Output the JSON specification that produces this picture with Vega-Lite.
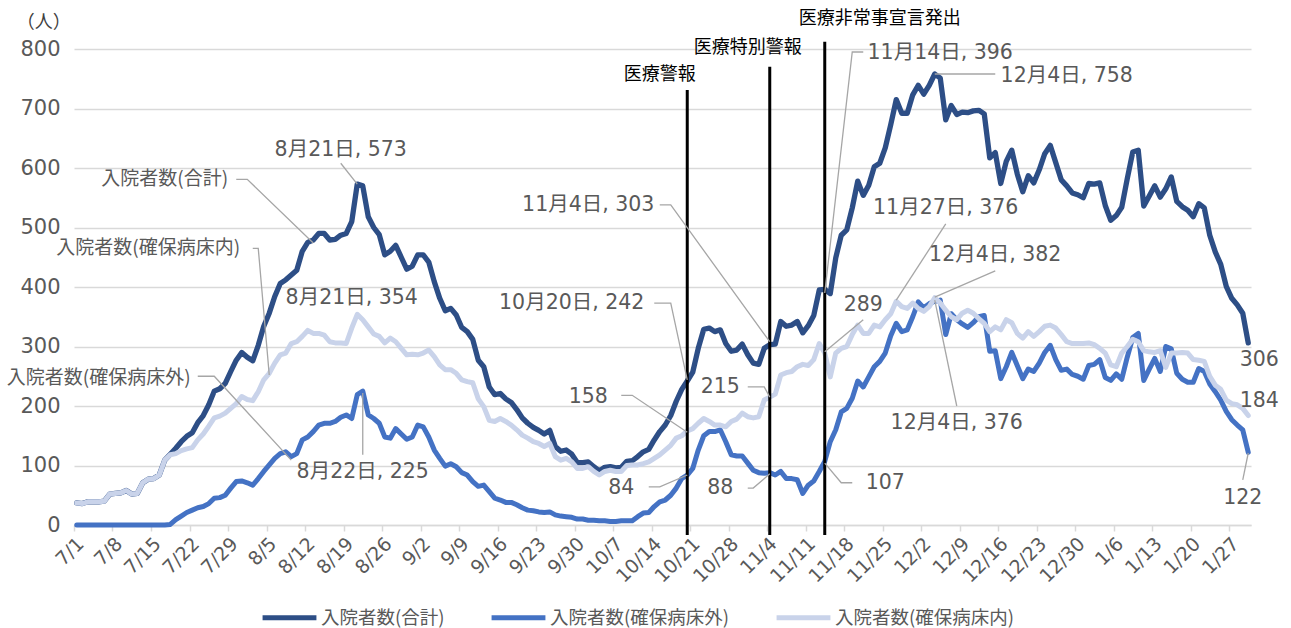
{
 "$schema": "https://vega.github.io/schema/vega-lite/v6.json",
 "width": 1177,
 "height": 476,
 "autosize": "none",
 "padding": {"left": 74, "top": 49, "right": 40, "bottom": 103},
 "background": "white",
 "config": {
  "font": "DejaVu Sans, Noto Sans CJK JP",
  "view": {"stroke": null},
  "axisY": {
   "tickCount": 8, "labelFontSize": 21, "labelColor": "#595959", "labelPadding": 14,
   "domain": false, "ticks": false, "grid": true, "gridColor": "#D9D9D9", "gridWidth": 1.5,
   "title": null
  }
 },
 "datasets": {
  "main": [
   {"date":"2020-07-01","total":37,"outside":0,"inside":37},
   {"date":"2020-07-02","total":36,"outside":0,"inside":36},
   {"date":"2020-07-03","total":39,"outside":0,"inside":39},
   {"date":"2020-07-04","total":39,"outside":0,"inside":39},
   {"date":"2020-07-05","total":39,"outside":0,"inside":39},
   {"date":"2020-07-06","total":40,"outside":0,"inside":40},
   {"date":"2020-07-07","total":52,"outside":0,"inside":52},
   {"date":"2020-07-08","total":53,"outside":0,"inside":53},
   {"date":"2020-07-09","total":54,"outside":0,"inside":54},
   {"date":"2020-07-10","total":58,"outside":0,"inside":58},
   {"date":"2020-07-11","total":52,"outside":0,"inside":52},
   {"date":"2020-07-12","total":53,"outside":0,"inside":53},
   {"date":"2020-07-13","total":71,"outside":0,"inside":71},
   {"date":"2020-07-14","total":77,"outside":0,"inside":77},
   {"date":"2020-07-15","total":78,"outside":0,"inside":78},
   {"date":"2020-07-16","total":84,"outside":0,"inside":84},
   {"date":"2020-07-17","total":109,"outside":0,"inside":109},
   {"date":"2020-07-18","total":119,"outside":1,"inside":118},
   {"date":"2020-07-19","total":129,"outside":9,"inside":120},
   {"date":"2020-07-20","total":140,"outside":15,"inside":125},
   {"date":"2020-07-21","total":149,"outside":21,"inside":128},
   {"date":"2020-07-22","total":155,"outside":25,"inside":130},
   {"date":"2020-07-23","total":172,"outside":29,"inside":143},
   {"date":"2020-07-24","total":184,"outside":31,"inside":153},
   {"date":"2020-07-25","total":202,"outside":36,"inside":166},
   {"date":"2020-07-26","total":225,"outside":45,"inside":180},
   {"date":"2020-07-27","total":229,"outside":46,"inside":183},
   {"date":"2020-07-28","total":238,"outside":50,"inside":188},
   {"date":"2020-07-29","total":258,"outside":62,"inside":196},
   {"date":"2020-07-30","total":277,"outside":73,"inside":204},
   {"date":"2020-07-31","total":290,"outside":74,"inside":216},
   {"date":"2020-08-01","total":282,"outside":71,"inside":211},
   {"date":"2020-08-02","total":276,"outside":67,"inside":209},
   {"date":"2020-08-03","total":302,"outside":78,"inside":224},
   {"date":"2020-08-04","total":334,"outside":90,"inside":244},
   {"date":"2020-08-05","total":356,"outside":101,"inside":255},
   {"date":"2020-08-06","total":384,"outside":112,"inside":272},
   {"date":"2020-08-07","total":406,"outside":120,"inside":286},
   {"date":"2020-08-08","total":412,"outside":123,"inside":289},
   {"date":"2020-08-09","total":420,"outside":115,"inside":305},
   {"date":"2020-08-10","total":428,"outside":120,"inside":308},
   {"date":"2020-08-11","total":460,"outside":143,"inside":317},
   {"date":"2020-08-12","total":475,"outside":148,"inside":327},
   {"date":"2020-08-13","total":479,"outside":157,"inside":322},
   {"date":"2020-08-14","total":490,"outside":168,"inside":322},
   {"date":"2020-08-15","total":490,"outside":171,"inside":319},
   {"date":"2020-08-16","total":479,"outside":171,"inside":308},
   {"date":"2020-08-17","total":480,"outside":174,"inside":306},
   {"date":"2020-08-18","total":487,"outside":181,"inside":306},
   {"date":"2020-08-19","total":490,"outside":185,"inside":305},
   {"date":"2020-08-20","total":510,"outside":179,"inside":331},
   {"date":"2020-08-21","total":573,"outside":219,"inside":354},
   {"date":"2020-08-22","total":570,"outside":225,"inside":345},
   {"date":"2020-08-23","total":518,"outside":185,"inside":333},
   {"date":"2020-08-24","total":500,"outside":179,"inside":321},
   {"date":"2020-08-25","total":488,"outside":171,"inside":317},
   {"date":"2020-08-26","total":454,"outside":148,"inside":306},
   {"date":"2020-08-27","total":460,"outside":146,"inside":314},
   {"date":"2020-08-28","total":470,"outside":162,"inside":308},
   {"date":"2020-08-29","total":450,"outside":153,"inside":297},
   {"date":"2020-08-30","total":430,"outside":144,"inside":286},
   {"date":"2020-08-31","total":435,"outside":148,"inside":287},
   {"date":"2020-09-01","total":454,"outside":168,"inside":286},
   {"date":"2020-09-02","total":454,"outside":165,"inside":289},
   {"date":"2020-09-03","total":442,"outside":148,"inside":294},
   {"date":"2020-09-04","total":409,"outside":126,"inside":283},
   {"date":"2020-09-05","total":381,"outside":112,"inside":269},
   {"date":"2020-09-06","total":360,"outside":99,"inside":261},
   {"date":"2020-09-07","total":364,"outside":103,"inside":261},
   {"date":"2020-09-08","total":353,"outside":98,"inside":255},
   {"date":"2020-09-09","total":332,"outside":88,"inside":244},
   {"date":"2020-09-10","total":325,"outside":84,"inside":241},
   {"date":"2020-09-11","total":312,"outside":73,"inside":239},
   {"date":"2020-09-12","total":277,"outside":65,"inside":212},
   {"date":"2020-09-13","total":266,"outside":67,"inside":199},
   {"date":"2020-09-14","total":232,"outside":56,"inside":176},
   {"date":"2020-09-15","total":219,"outside":45,"inside":174},
   {"date":"2020-09-16","total":221,"outside":42,"inside":179},
   {"date":"2020-09-17","total":212,"outside":38,"inside":174},
   {"date":"2020-09-18","total":206,"outside":38,"inside":168},
   {"date":"2020-09-19","total":194,"outside":34,"inside":160},
   {"date":"2020-09-20","total":180,"outside":29,"inside":151},
   {"date":"2020-09-21","total":171,"outside":25,"inside":146},
   {"date":"2020-09-22","total":164,"outside":24,"inside":140},
   {"date":"2020-09-23","total":159,"outside":22,"inside":137},
   {"date":"2020-09-24","total":153,"outside":21,"inside":132},
   {"date":"2020-09-25","total":159,"outside":22,"inside":137},
   {"date":"2020-09-26","total":132,"outside":17,"inside":115},
   {"date":"2020-09-27","total":124,"outside":15,"inside":109},
   {"date":"2020-09-28","total":126,"outside":14,"inside":112},
   {"date":"2020-09-29","total":119,"outside":13,"inside":106},
   {"date":"2020-09-30","total":105,"outside":10,"inside":95},
   {"date":"2020-10-01","total":105,"outside":10,"inside":95},
   {"date":"2020-10-02","total":106,"outside":8,"inside":98},
   {"date":"2020-10-03","total":98,"outside":8,"inside":90},
   {"date":"2020-10-04","total":91,"outside":7,"inside":84},
   {"date":"2020-10-05","total":97,"outside":7,"inside":90},
   {"date":"2020-10-06","total":98,"outside":6,"inside":92},
   {"date":"2020-10-07","total":96,"outside":6,"inside":90},
   {"date":"2020-10-08","total":97,"outside":7,"inside":90},
   {"date":"2020-10-09","total":107,"outside":7,"inside":100},
   {"date":"2020-10-10","total":108,"outside":7,"inside":101},
   {"date":"2020-10-11","total":115,"outside":14,"inside":101},
   {"date":"2020-10-12","total":123,"outside":20,"inside":103},
   {"date":"2020-10-13","total":127,"outside":21,"inside":106},
   {"date":"2020-10-14","total":143,"outside":31,"inside":112},
   {"date":"2020-10-15","total":157,"outside":39,"inside":118},
   {"date":"2020-10-16","total":168,"outside":42,"inside":126},
   {"date":"2020-10-17","total":184,"outside":50,"inside":134},
   {"date":"2020-10-18","total":208,"outside":62,"inside":146},
   {"date":"2020-10-19","total":228,"outside":78,"inside":150},
   {"date":"2020-10-20","total":242,"outside":84,"inside":158},
   {"date":"2020-10-21","total":257,"outside":95,"inside":162},
   {"date":"2020-10-22","total":297,"outside":126,"inside":171},
   {"date":"2020-10-23","total":329,"outside":150,"inside":179},
   {"date":"2020-10-24","total":331,"outside":157,"inside":174},
   {"date":"2020-10-25","total":325,"outside":157,"inside":168},
   {"date":"2020-10-26","total":328,"outside":160,"inside":168},
   {"date":"2020-10-27","total":305,"outside":140,"inside":165},
   {"date":"2020-10-28","total":292,"outside":118,"inside":174},
   {"date":"2020-10-29","total":294,"outside":116,"inside":178},
   {"date":"2020-10-30","total":304,"outside":116,"inside":188},
   {"date":"2020-10-31","total":286,"outside":104,"inside":182},
   {"date":"2020-11-01","total":272,"outside":92,"inside":180},
   {"date":"2020-11-02","total":270,"outside":88,"inside":182},
   {"date":"2020-11-03","total":297,"outside":87,"inside":210},
   {"date":"2020-11-04","total":303,"outside":88,"inside":215},
   {"date":"2020-11-05","total":304,"outside":84,"inside":220},
   {"date":"2020-11-06","total":342,"outside":90,"inside":252},
   {"date":"2020-11-07","total":334,"outside":78,"inside":256},
   {"date":"2020-11-08","total":336,"outside":78,"inside":258},
   {"date":"2020-11-09","total":342,"outside":76,"inside":266},
   {"date":"2020-11-10","total":323,"outside":53,"inside":270},
   {"date":"2020-11-11","total":335,"outside":67,"inside":268},
   {"date":"2020-11-12","total":352,"outside":74,"inside":278},
   {"date":"2020-11-13","total":395,"outside":90,"inside":305},
   {"date":"2020-11-14","total":396,"outside":107,"inside":289},
   {"date":"2020-11-15","total":389,"outside":140,"inside":249},
   {"date":"2020-11-16","total":449,"outside":160,"inside":289},
   {"date":"2020-11-17","total":487,"outside":190,"inside":297},
   {"date":"2020-11-18","total":496,"outside":196,"inside":300},
   {"date":"2020-11-19","total":533,"outside":213,"inside":320},
   {"date":"2020-11-20","total":578,"outside":242,"inside":336},
   {"date":"2020-11-21","total":554,"outside":232,"inside":322},
   {"date":"2020-11-22","total":571,"outside":249,"inside":322},
   {"date":"2020-11-23","total":602,"outside":266,"inside":336},
   {"date":"2020-11-24","total":608,"outside":275,"inside":333},
   {"date":"2020-11-25","total":634,"outside":289,"inside":345},
   {"date":"2020-11-26","total":673,"outside":318,"inside":355},
   {"date":"2020-11-27","total":715,"outside":339,"inside":376},
   {"date":"2020-11-28","total":692,"outside":325,"inside":367},
   {"date":"2020-11-29","total":692,"outside":328,"inside":364},
   {"date":"2020-11-30","total":723,"outside":350,"inside":373},
   {"date":"2020-12-01","total":739,"outside":375,"inside":364},
   {"date":"2020-12-02","total":724,"outside":365,"inside":359},
   {"date":"2020-12-03","total":739,"outside":372,"inside":367},
   {"date":"2020-12-04","total":758,"outside":376,"inside":382},
   {"date":"2020-12-05","total":751,"outside":378,"inside":373},
   {"date":"2020-12-06","total":681,"outside":320,"inside":361},
   {"date":"2020-12-07","total":705,"outside":355,"inside":350},
   {"date":"2020-12-08","total":690,"outside":345,"inside":345},
   {"date":"2020-12-09","total":694,"outside":338,"inside":356},
   {"date":"2020-12-10","total":693,"outside":332,"inside":361},
   {"date":"2020-12-11","total":696,"outside":340,"inside":356},
   {"date":"2020-12-12","total":697,"outside":350,"inside":347},
   {"date":"2020-12-13","total":691,"outside":352,"inside":339},
   {"date":"2020-12-14","total":617,"outside":292,"inside":325},
   {"date":"2020-12-15","total":626,"outside":293,"inside":333},
   {"date":"2020-12-16","total":574,"outside":246,"inside":328},
   {"date":"2020-12-17","total":611,"outside":266,"inside":345},
   {"date":"2020-12-18","total":630,"outside":290,"inside":340},
   {"date":"2020-12-19","total":590,"outside":268,"inside":322},
   {"date":"2020-12-20","total":560,"outside":246,"inside":314},
   {"date":"2020-12-21","total":587,"outside":262,"inside":325},
   {"date":"2020-12-22","total":575,"outside":258,"inside":317},
   {"date":"2020-12-23","total":597,"outside":272,"inside":325},
   {"date":"2020-12-24","total":624,"outside":290,"inside":334},
   {"date":"2020-12-25","total":638,"outside":302,"inside":336},
   {"date":"2020-12-26","total":609,"outside":278,"inside":331},
   {"date":"2020-12-27","total":580,"outside":260,"inside":320},
   {"date":"2020-12-28","total":570,"outside":262,"inside":308},
   {"date":"2020-12-29","total":558,"outside":253,"inside":305},
   {"date":"2020-12-30","total":555,"outside":250,"inside":305},
   {"date":"2020-12-31","total":550,"outside":245,"inside":305},
   {"date":"2021-01-01","total":574,"outside":268,"inside":306},
   {"date":"2021-01-02","total":573,"outside":270,"inside":303},
   {"date":"2021-01-03","total":575,"outside":278,"inside":297},
   {"date":"2021-01-04","total":537,"outside":248,"inside":289},
   {"date":"2021-01-05","total":512,"outside":243,"inside":269},
   {"date":"2021-01-06","total":520,"outside":254,"inside":266},
   {"date":"2021-01-07","total":534,"outside":245,"inside":289},
   {"date":"2021-01-08","total":582,"outside":282,"inside":300},
   {"date":"2021-01-09","total":627,"outside":315,"inside":312},
   {"date":"2021-01-10","total":630,"outside":322,"inside":308},
   {"date":"2021-01-11","total":536,"outside":243,"inside":293},
   {"date":"2021-01-12","total":553,"outside":262,"inside":291},
   {"date":"2021-01-13","total":570,"outside":280,"inside":290},
   {"date":"2021-01-14","total":551,"outside":258,"inside":293},
   {"date":"2021-01-15","total":565,"outside":300,"inside":265},
   {"date":"2021-01-16","total":585,"outside":296,"inside":289},
   {"date":"2021-01-17","total":544,"outside":255,"inside":289},
   {"date":"2021-01-18","total":535,"outside":245,"inside":290},
   {"date":"2021-01-19","total":529,"outside":240,"inside":289},
   {"date":"2021-01-20","total":518,"outside":240,"inside":278},
   {"date":"2021-01-21","total":540,"outside":263,"inside":277},
   {"date":"2021-01-22","total":533,"outside":258,"inside":275},
   {"date":"2021-01-23","total":487,"outside":237,"inside":250},
   {"date":"2021-01-24","total":459,"outside":224,"inside":235},
   {"date":"2021-01-25","total":438,"outside":210,"inside":228},
   {"date":"2021-01-26","total":401,"outside":191,"inside":210},
   {"date":"2021-01-27","total":381,"outside":177,"inside":204},
   {"date":"2021-01-28","total":370,"outside":168,"inside":202},
   {"date":"2021-01-29","total":356,"outside":160,"inside":196},
   {"date":"2021-01-30","total":306,"outside":122,"inside":184}
  ],
  "events": [
   {"date":"2020-10-20","top":731},
   {"date":"2020-11-04","top":770},
   {"date":"2020-11-14","top":812}
  ],
  "labels": [
   {"kind":"value","text":"8月21日, 573","date":"2020-08-18","value":630},
   {"kind":"name","text":"入院者数(合計)","date":"2020-07-17","value":581},
   {"kind":"name","text":"入院者数(確保病床内)","date":"2020-07-14","value":465},
   {"kind":"value","text":"8月21日, 354","date":"2020-08-20","value":381},
   {"kind":"name","text":"入院者数(確保病床外)","date":"2020-07-05","value":247},
   {"kind":"value","text":"8月22日, 225","date":"2020-08-22","value":89},
   {"kind":"value","text":"10月20日, 242","date":"2020-09-29","value":373},
   {"kind":"value","text":"11月4日, 303","date":"2020-10-02","value":538},
   {"kind":"value","text":"158","date":"2020-10-02","value":215},
   {"kind":"value","text":"84","date":"2020-10-08","value":62},
   {"kind":"value","text":"215","date":"2020-10-26","value":232},
   {"kind":"value","text":"88","date":"2020-10-26","value":62},
   {"kind":"value","text":"11月14日, 396","date":"2020-12-05","value":793},
   {"kind":"value","text":"12月4日, 758","date":"2020-12-28","value":755},
   {"kind":"value","text":"11月27日, 376","date":"2020-12-06","value":533},
   {"kind":"value","text":"12月4日, 382","date":"2020-12-15","value":454},
   {"kind":"value","text":"289","date":"2020-11-21","value":370},
   {"kind":"value","text":"107","date":"2020-11-25","value":71},
   {"kind":"value","text":"12月4日, 376","date":"2020-12-08","value":171},
   {"kind":"value","text":"306","date":"2021-02-01","value":277},
   {"kind":"value","text":"184","date":"2021-02-01","value":208},
   {"kind":"value","text":"122","date":"2021-01-29","value":45},
   {"kind":"event","text":"医療警報","date":"2020-10-15","value":756},
   {"kind":"event","text":"医療特別警報","date":"2020-10-31","value":802},
   {"kind":"event","text":"医療非常事宣言発出","date":"2020-11-24","value":850},
   {"kind":"unit","text":"（人）","date":"2020-06-25","value":843}
  ],
  "leaders": [
   {"id":"L1","seq":0,"date":"2020-08-18","value":608},
   {"id":"L1","seq":1,"date":"2020-08-21","value":573},
   {"id":"L2","seq":0,"date":"2020-07-30","value":581},
   {"id":"L2","seq":1,"date":"2020-08-01","value":581},
   {"id":"L2","seq":2,"date":"2020-08-13","value":474},
   {"id":"L3","seq":0,"date":"2020-08-02","value":465},
   {"id":"L3","seq":1,"date":"2020-08-03","value":465},
   {"id":"L3","seq":2,"date":"2020-08-05","value":252},
   {"id":"L4","seq":0,"date":"2020-07-23","value":250},
   {"id":"L4","seq":1,"date":"2020-07-26","value":250},
   {"id":"L4","seq":2,"date":"2020-08-09","value":109},
   {"id":"L5","seq":0,"date":"2020-08-22","value":118},
   {"id":"L5","seq":1,"date":"2020-08-22","value":222},
   {"id":"L6","seq":0,"date":"2020-10-14","value":373},
   {"id":"L6","seq":1,"date":"2020-10-17","value":373},
   {"id":"L6","seq":2,"date":"2020-10-20","value":244},
   {"id":"L7","seq":0,"date":"2020-10-15","value":538},
   {"id":"L7","seq":1,"date":"2020-10-17","value":538},
   {"id":"L7","seq":2,"date":"2020-11-04","value":308},
   {"id":"L8","seq":0,"date":"2020-10-08","value":218},
   {"id":"L8","seq":1,"date":"2020-10-10","value":218},
   {"id":"L8","seq":2,"date":"2020-10-20","value":156},
   {"id":"L9","seq":0,"date":"2020-10-13","value":64},
   {"id":"L9","seq":1,"date":"2020-10-15","value":64},
   {"id":"L9","seq":2,"date":"2020-10-20","value":84},
   {"id":"L10","seq":0,"date":"2020-10-31","value":232},
   {"id":"L10","seq":1,"date":"2020-11-03","value":232},
   {"id":"L10","seq":2,"date":"2020-11-04","value":215},
   {"id":"L11","seq":0,"date":"2020-10-31","value":62},
   {"id":"L11","seq":1,"date":"2020-11-01","value":62},
   {"id":"L11","seq":2,"date":"2020-11-04","value":86},
   {"id":"L12","seq":0,"date":"2020-11-21","value":795},
   {"id":"L12","seq":1,"date":"2020-11-19","value":795},
   {"id":"L12","seq":2,"date":"2020-11-14","value":390},
   {"id":"L13","seq":0,"date":"2020-12-15","value":758},
   {"id":"L13","seq":1,"date":"2020-12-04","value":758},
   {"id":"L14","seq":0,"date":"2020-12-06","value":506},
   {"id":"L14","seq":1,"date":"2020-11-27","value":378},
   {"id":"L15","seq":0,"date":"2020-12-15","value":427},
   {"id":"L15","seq":1,"date":"2020-12-04","value":383},
   {"id":"L16","seq":0,"date":"2020-11-21","value":345},
   {"id":"L16","seq":1,"date":"2020-11-14","value":291},
   {"id":"L17","seq":0,"date":"2020-11-19","value":71},
   {"id":"L17","seq":1,"date":"2020-11-17","value":71},
   {"id":"L17","seq":2,"date":"2020-11-14","value":104},
   {"id":"L18","seq":0,"date":"2020-12-08","value":200},
   {"id":"L18","seq":1,"date":"2020-12-04","value":378},
   {"id":"L19","seq":0,"date":"2021-01-29","value":76},
   {"id":"L19","seq":1,"date":"2021-01-30","value":121}
  ]
 },
 "encoding": {
  "x": {
   "field": "date",
   "type": "temporal",
   "scale": {"domain": [1593518400000, 1612008000000]},
   "axis": {
    "title": null,
    "values": [1593518400000,1594123200000,1594728000000,1595332800000,1595937600000,1596542400000,1597147200000,1597752000000,1598356800000,1598961600000,1599566400000,1600171200000,1600776000000,1601380800000,1601985600000,1602590400000,1603195200000,1603800000000,1604404800000,1605009600000,1605614400000,1606219200000,1606824000000,1607428800000,1608033600000,1608638400000,1609243200000,1609848000000,1610452800000,1611057600000,1611662400000],
    "labelExpr": "utcFormat(time(datum.value) + 43200000, '%-m/%-d')",
    "labelAngle": -45,
    "labelFontSize": 19,
    "labelColor": "#595959",
    "labelOverlap": false,
    "labelFlush": false,
    "labelBound": false,
    "labelPadding": 3,
    "domainColor": "#D9D9D9",
    "domainWidth": 1.5,
    "tickColor": "#D9D9D9",
    "tickWidth": 1.5,
    "tickSize": 6,
    "grid": false
   }
  }
 },
 "layer": [
  {
   "data": {"name": "main"},
   "mark": {"type": "line", "strokeWidth": 5.3, "strokeJoin": "round", "strokeCap": "round"},
   "encoding": {
    "y": {"field": "total", "type": "quantitative", "title": null, "scale": {"domain": [0, 800]}},
    "color": {
     "datum": "入院者数(合計)", "type": "nominal",
     "scale": {
      "domain": ["入院者数(合計)", "入院者数(確保病床外)", "入院者数(確保病床内)"],
      "range": ["#2D4E86", "#4472C4", "#C9D3EA"]
     },
     "legend": {
      "title": null, "orient": "none", "legendX": 186, "legendY": 539,
      "direction": "horizontal", "symbolType": "stroke", "symbolSize": 2900,
      "symbolStrokeWidth": 5, "labelFontSize": 18.5, "labelColor": "#595959",
      "labelFont": "Noto Sans CJK JP", "labelLimit": 400, "columnPadding": 36, "labelOffset": 2
     }
    }
   }
  },
  {
   "data": {"name": "main"},
   "mark": {"type": "line", "strokeWidth": 5, "strokeJoin": "round", "strokeCap": "round"},
   "encoding": {
    "y": {"field": "outside", "type": "quantitative", "title": null},
    "color": {"datum": "入院者数(確保病床外)", "type": "nominal"}
   }
  },
  {
   "data": {"name": "main"},
   "mark": {"type": "line", "strokeWidth": 5, "strokeJoin": "round", "strokeCap": "round"},
   "encoding": {
    "y": {"field": "inside", "type": "quantitative", "title": null},
    "color": {"datum": "入院者数(確保病床内)", "type": "nominal"}
   }
  },
  {
   "data": {"name": "events"},
   "mark": {"type": "rule", "color": "black", "strokeWidth": 3},
   "encoding": {
    "y": {"field": "top", "type": "quantitative", "title": null},
    "y2": {"datum": -17}
   }
  },
  {
   "data": {"name": "leaders"},
   "mark": {"type": "line", "stroke": "#A6A6A6", "strokeWidth": 1.3},
   "encoding": {
    "y": {"field": "value", "type": "quantitative", "title": null},
    "detail": {"field": "id", "type": "nominal"},
    "order": {"field": "seq", "type": "quantitative"}
   }
  },
  {
   "data": {"name": "labels"},
   "transform": [{"filter": "datum.kind == 'value'"}],
   "mark": {"type": "text", "fontSize": 20.5, "color": "#595959", "align": "center", "baseline": "middle"},
   "encoding": {
    "y": {"field": "value", "type": "quantitative", "title": null},
    "text": {"field": "text", "type": "nominal"}
   }
  },
  {
   "data": {"name": "labels"},
   "transform": [{"filter": "datum.kind == 'name'"}],
   "mark": {"type": "text", "fontSize": 19, "color": "#595959", "align": "center", "baseline": "middle", "font": "Noto Sans CJK JP"},
   "encoding": {
    "y": {"field": "value", "type": "quantitative", "title": null},
    "text": {"field": "text", "type": "nominal"}
   }
  },
  {
   "data": {"name": "labels"},
   "transform": [{"filter": "datum.kind == 'event'"}],
   "mark": {"type": "text", "fontSize": 18, "color": "#000000", "align": "center", "baseline": "middle", "font": "Noto Sans CJK JP"},
   "encoding": {
    "y": {"field": "value", "type": "quantitative", "title": null},
    "text": {"field": "text", "type": "nominal"}
   }
  },
  {
   "data": {"name": "labels"},
   "transform": [{"filter": "datum.kind == 'unit'"}],
   "mark": {"type": "text", "fontSize": 18, "color": "#404040", "align": "center", "baseline": "middle", "font": "Noto Sans CJK JP"},
   "encoding": {
    "y": {"field": "value", "type": "quantitative", "title": null},
    "text": {"field": "text", "type": "nominal"}
   }
  }
 ]
}
